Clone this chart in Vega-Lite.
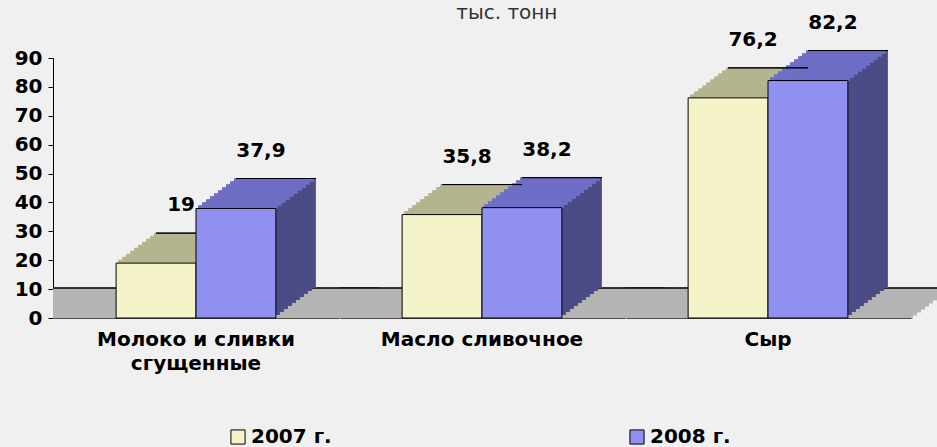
{
  "$schema": "https://vega.github.io/schema/vega-lite/v6.json",
  "padding": {"left": 14, "top": 2, "right": 0, "bottom": 30},
  "bounds": "flush",
  "background": "#F0F0F0",
  "title": {"text": "тыс. тонн", "font": "DejaVu Sans", "fontSize": 20, "fontWeight": "normal", "color": "#333333", "anchor": "middle", "dx": 24, "offset": -10},
  "config": {
    "view": {"stroke": null},
    "locale": {"number": {"decimal": ",", "thousands": " ", "grouping": [3], "currency": ["", ""]}},
    "axis": {"domainColor": "black", "tickColor": "black", "labelColor": "black", "labelFont": "DejaVu Sans", "labelFontWeight": "bold", "labelFontSize": 20, "grid": false, "title": null, "zindex": 1},
    "facet": {"spacing": 0}
  },
  "data": {"values": [
    {"cat": "Молоко и сливки сгущенные", "year": "2007 г.", "v": 19},
    {"cat": "Молоко и сливки сгущенные", "year": "2008 г.", "v": 37.9},
    {"cat": "Масло сливочное", "year": "2007 г.", "v": 35.8},
    {"cat": "Масло сливочное", "year": "2008 г.", "v": 38.2},
    {"cat": "Сыр", "year": "2007 г.", "v": 76.2},
    {"cat": "Сыр", "year": "2008 г.", "v": 82.2}
  ]},
  "facet": {"column": {"field": "cat", "type": "nominal", "sort": ["Молоко и сливки сгущенные", "Масло сливочное", "Сыр"], "title": null,
    "header": {"labelOrient": "bottom", "labelFont": "DejaVu Sans", "labelFontWeight": "bold", "labelFontSize": 20, "labelColor": "black",
      "labelPadding": 12, "labelLineHeight": 24, "labelLimit": 0, "labelBaseline": "top",
      "labelExpr": "datum.value == 'Молоко и сливки сгущенные' ? ['Молоко и сливки', 'сгущенные'] : datum.value"}}},
  "spacing": 0,
  "spec": {
    "width": 286,
    "height": 260,
    "encoding": {
      "x": {"field": "year", "type": "nominal", "scale": {"paddingInner": 0, "paddingOuter": 0.79},
        "axis": {"labels": false, "ticks": false, "domain": true}},
      "y": {"field": "v", "type": "quantitative", "scale": {"domain": [0, 90], "nice": false},
        "axis": {"values": [0, 10, 20, 30, 40, 50, 60, 70, 80, 90], "tickSize": 5, "labelPadding": 6, "labelOverlap": false, "labelFlush": false}}
    },
    "layer": [
      {"mark": {"type": "rule", "color": "#B4B4B4", "strokeWidth": 3.6, "xOffset": 2, "x2Offset": 42, "yOffset": -1.5, "y2Offset": -1.5}, "encoding": {"x": null, "y": {"datum": 0, "type": "quantitative"}}},
      {"mark": {"type": "rule", "color": "#B4B4B4", "strokeWidth": 3.6, "xOffset": 6, "x2Offset": 46, "yOffset": -4.5, "y2Offset": -4.5}, "encoding": {"x": null, "y": {"datum": 0, "type": "quantitative"}}},
      {"mark": {"type": "rule", "color": "#B4B4B4", "strokeWidth": 3.6, "xOffset": 10, "x2Offset": 50, "yOffset": -7.5, "y2Offset": -7.5}, "encoding": {"x": null, "y": {"datum": 0, "type": "quantitative"}}},
      {"mark": {"type": "rule", "color": "#B4B4B4", "strokeWidth": 3.6, "xOffset": 14, "x2Offset": 54, "yOffset": -10.5, "y2Offset": -10.5}, "encoding": {"x": null, "y": {"datum": 0, "type": "quantitative"}}},
      {"mark": {"type": "rule", "color": "#B4B4B4", "strokeWidth": 3.6, "xOffset": 18, "x2Offset": 58, "yOffset": -13.5, "y2Offset": -13.5}, "encoding": {"x": null, "y": {"datum": 0, "type": "quantitative"}}},
      {"mark": {"type": "rule", "color": "#B4B4B4", "strokeWidth": 3.6, "xOffset": 22, "x2Offset": 62, "yOffset": -16.5, "y2Offset": -16.5}, "encoding": {"x": null, "y": {"datum": 0, "type": "quantitative"}}},
      {"mark": {"type": "rule", "color": "#B4B4B4", "strokeWidth": 3.6, "xOffset": 26, "x2Offset": 66, "yOffset": -19.5, "y2Offset": -19.5}, "encoding": {"x": null, "y": {"datum": 0, "type": "quantitative"}}},
      {"mark": {"type": "rule", "color": "#B4B4B4", "strokeWidth": 3.6, "xOffset": 30, "x2Offset": 70, "yOffset": -22.5, "y2Offset": -22.5}, "encoding": {"x": null, "y": {"datum": 0, "type": "quantitative"}}},
      {"mark": {"type": "rule", "color": "#B4B4B4", "strokeWidth": 3.6, "xOffset": 34, "x2Offset": 74, "yOffset": -25.5, "y2Offset": -25.5}, "encoding": {"x": null, "y": {"datum": 0, "type": "quantitative"}}},
      {"mark": {"type": "rule", "color": "#B4B4B4", "strokeWidth": 3.6, "xOffset": 38, "x2Offset": 78, "yOffset": -28.5, "y2Offset": -28.5}, "encoding": {"x": null, "y": {"datum": 0, "type": "quantitative"}}},
      {"mark": {"type": "rule", "color": "black", "strokeWidth": 1, "xOffset": 40, "x2Offset": 80, "yOffset": -30, "y2Offset": -30}, "encoding": {"x": null, "y": {"datum": 0, "type": "quantitative"}}},
      {"mark": {"type": "bar", "xOffset": 40, "x2Offset": 40, "yOffset": -30, "y2Offset": -30}, "encoding": {"color": {"condition": {"test": "datum.year === '2007 г.'", "value": "#8C8C6A"}, "value": "#4B4B85"}}},
      {"mark": {"type": "bar", "xOffset": 36, "x2Offset": 36, "yOffset": -27, "y2Offset": -27}, "encoding": {"color": {"condition": {"test": "datum.year === '2007 г.'", "value": "#8C8C6A"}, "value": "#4B4B85"}}},
      {"mark": {"type": "bar", "xOffset": 32, "x2Offset": 32, "yOffset": -24, "y2Offset": -24}, "encoding": {"color": {"condition": {"test": "datum.year === '2007 г.'", "value": "#8C8C6A"}, "value": "#4B4B85"}}},
      {"mark": {"type": "bar", "xOffset": 28, "x2Offset": 28, "yOffset": -21, "y2Offset": -21}, "encoding": {"color": {"condition": {"test": "datum.year === '2007 г.'", "value": "#8C8C6A"}, "value": "#4B4B85"}}},
      {"mark": {"type": "bar", "xOffset": 24, "x2Offset": 24, "yOffset": -18, "y2Offset": -18}, "encoding": {"color": {"condition": {"test": "datum.year === '2007 г.'", "value": "#8C8C6A"}, "value": "#4B4B85"}}},
      {"mark": {"type": "bar", "xOffset": 20, "x2Offset": 20, "yOffset": -15, "y2Offset": -15}, "encoding": {"color": {"condition": {"test": "datum.year === '2007 г.'", "value": "#8C8C6A"}, "value": "#4B4B85"}}},
      {"mark": {"type": "bar", "xOffset": 16, "x2Offset": 16, "yOffset": -12, "y2Offset": -12}, "encoding": {"color": {"condition": {"test": "datum.year === '2007 г.'", "value": "#8C8C6A"}, "value": "#4B4B85"}}},
      {"mark": {"type": "bar", "xOffset": 12, "x2Offset": 12, "yOffset": -9, "y2Offset": -9}, "encoding": {"color": {"condition": {"test": "datum.year === '2007 г.'", "value": "#8C8C6A"}, "value": "#4B4B85"}}},
      {"mark": {"type": "bar", "xOffset": 8, "x2Offset": 8, "yOffset": -6, "y2Offset": -6}, "encoding": {"color": {"condition": {"test": "datum.year === '2007 г.'", "value": "#8C8C6A"}, "value": "#4B4B85"}}},
      {"mark": {"type": "bar", "xOffset": 4, "x2Offset": 4, "yOffset": -3, "y2Offset": -3}, "encoding": {"color": {"condition": {"test": "datum.year === '2007 г.'", "value": "#8C8C6A"}, "value": "#4B4B85"}}},
      {"mark": {"type": "bar", "strokeWidth": 3.6, "xOffset": 38, "x2Offset": 38, "yOffset": -28.5, "y2Offset": -28.5}, "encoding": {"y2": {"field": "v"}, "color": {"condition": {"test": "datum.year === '2007 г.'", "value": "#B4B48E"}, "value": "#6E6EC6"}, "stroke": {"condition": {"test": "datum.year === '2007 г.'", "value": "#B4B48E"}, "value": "#6E6EC6"}}},
      {"mark": {"type": "bar", "strokeWidth": 3.6, "xOffset": 34, "x2Offset": 34, "yOffset": -25.5, "y2Offset": -25.5}, "encoding": {"y2": {"field": "v"}, "color": {"condition": {"test": "datum.year === '2007 г.'", "value": "#B4B48E"}, "value": "#6E6EC6"}, "stroke": {"condition": {"test": "datum.year === '2007 г.'", "value": "#B4B48E"}, "value": "#6E6EC6"}}},
      {"mark": {"type": "bar", "strokeWidth": 3.6, "xOffset": 30, "x2Offset": 30, "yOffset": -22.5, "y2Offset": -22.5}, "encoding": {"y2": {"field": "v"}, "color": {"condition": {"test": "datum.year === '2007 г.'", "value": "#B4B48E"}, "value": "#6E6EC6"}, "stroke": {"condition": {"test": "datum.year === '2007 г.'", "value": "#B4B48E"}, "value": "#6E6EC6"}}},
      {"mark": {"type": "bar", "strokeWidth": 3.6, "xOffset": 26, "x2Offset": 26, "yOffset": -19.5, "y2Offset": -19.5}, "encoding": {"y2": {"field": "v"}, "color": {"condition": {"test": "datum.year === '2007 г.'", "value": "#B4B48E"}, "value": "#6E6EC6"}, "stroke": {"condition": {"test": "datum.year === '2007 г.'", "value": "#B4B48E"}, "value": "#6E6EC6"}}},
      {"mark": {"type": "bar", "strokeWidth": 3.6, "xOffset": 22, "x2Offset": 22, "yOffset": -16.5, "y2Offset": -16.5}, "encoding": {"y2": {"field": "v"}, "color": {"condition": {"test": "datum.year === '2007 г.'", "value": "#B4B48E"}, "value": "#6E6EC6"}, "stroke": {"condition": {"test": "datum.year === '2007 г.'", "value": "#B4B48E"}, "value": "#6E6EC6"}}},
      {"mark": {"type": "bar", "strokeWidth": 3.6, "xOffset": 18, "x2Offset": 18, "yOffset": -13.5, "y2Offset": -13.5}, "encoding": {"y2": {"field": "v"}, "color": {"condition": {"test": "datum.year === '2007 г.'", "value": "#B4B48E"}, "value": "#6E6EC6"}, "stroke": {"condition": {"test": "datum.year === '2007 г.'", "value": "#B4B48E"}, "value": "#6E6EC6"}}},
      {"mark": {"type": "bar", "strokeWidth": 3.6, "xOffset": 14, "x2Offset": 14, "yOffset": -10.5, "y2Offset": -10.5}, "encoding": {"y2": {"field": "v"}, "color": {"condition": {"test": "datum.year === '2007 г.'", "value": "#B4B48E"}, "value": "#6E6EC6"}, "stroke": {"condition": {"test": "datum.year === '2007 г.'", "value": "#B4B48E"}, "value": "#6E6EC6"}}},
      {"mark": {"type": "bar", "strokeWidth": 3.6, "xOffset": 10, "x2Offset": 10, "yOffset": -7.5, "y2Offset": -7.5}, "encoding": {"y2": {"field": "v"}, "color": {"condition": {"test": "datum.year === '2007 г.'", "value": "#B4B48E"}, "value": "#6E6EC6"}, "stroke": {"condition": {"test": "datum.year === '2007 г.'", "value": "#B4B48E"}, "value": "#6E6EC6"}}},
      {"mark": {"type": "bar", "strokeWidth": 3.6, "xOffset": 6, "x2Offset": 6, "yOffset": -4.5, "y2Offset": -4.5}, "encoding": {"y2": {"field": "v"}, "color": {"condition": {"test": "datum.year === '2007 г.'", "value": "#B4B48E"}, "value": "#6E6EC6"}, "stroke": {"condition": {"test": "datum.year === '2007 г.'", "value": "#B4B48E"}, "value": "#6E6EC6"}}},
      {"mark": {"type": "bar", "strokeWidth": 3.6, "xOffset": 2, "x2Offset": 2, "yOffset": -1.5, "y2Offset": -1.5}, "encoding": {"y2": {"field": "v"}, "color": {"condition": {"test": "datum.year === '2007 г.'", "value": "#B4B48E"}, "value": "#6E6EC6"}, "stroke": {"condition": {"test": "datum.year === '2007 г.'", "value": "#B4B48E"}, "value": "#6E6EC6"}}},
      {"mark": {"type": "bar", "stroke": "black", "strokeWidth": 1, "fillOpacity": 0, "xOffset": 40, "x2Offset": 40, "yOffset": -30, "y2Offset": -30}, "encoding": {"y2": {"field": "v"}}},
      {"mark": {"type": "bar", "stroke": "black", "strokeWidth": 1},
        "encoding": {"color": {"field": "year", "type": "nominal",
          "scale": {"domain": ["2007 г.", "2008 г."], "range": ["#F4F4C8", "#9090F0"]},
          "legend": {"title": null, "orient": "none", "legendX": 175, "legendY": 369, "direction": "horizontal", "columnPadding": 295, "padding": 0,
            "symbolType": "square", "symbolSize": 200, "symbolStrokeColor": "black", "symbolStrokeWidth": 1, "labelOffset": 3,
            "labelFont": "DejaVu Sans", "labelFontWeight": "bold", "labelFontSize": 20, "labelColor": "black"}}}},
      {"mark": {"type": "text", "dx": 25, "dy": -58, "baseline": "middle", "align": "center", "font": "DejaVu Sans", "fontWeight": "bold", "fontSize": 20, "color": "black"},
        "encoding": {"text": {"field": "v", "type": "quantitative", "format": ".3~r"}}}
    ]
  }
}
